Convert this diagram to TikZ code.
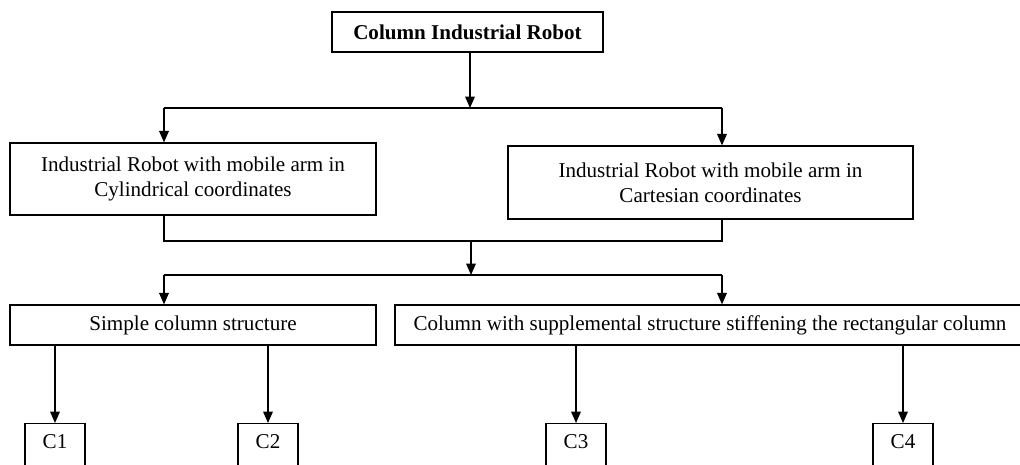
\documentclass[tikz,border=0pt]{standalone}
\usepackage{fontspec}
\setmainfont{Liberation Serif}
\usepackage{tikz}
\usetikzlibrary{shapes,arrows,arrows.meta,positioning,calc}

\tikzset{
  box/.style={draw, line width=0.7pt, align=center, inner sep=2pt,
    font=\fontsize{12}{14.2}\selectfont},
  cbox/.style={box, anchor=north, minimum width=1.2cm,
    text height=8pt, text depth=24pt, inner ysep=6pt},
  arr/.style={line width=0.7pt, -{Triangle[length=6.5pt,width=5.5pt]}},
  ln/.style={line width=0.7pt}
}

\begin{document}
\begin{tikzpicture}[x=0.02cm,y=-0.02cm]
  \clip (0,0) rectangle (1020,465);
  \fill[white] (0,0) rectangle (1020,465);

  % boxes
  \node[box, minimum width=5.42cm, minimum height=0.8cm, font=\fontsize{12}{14.2}\selectfont\bfseries]
    (top) at (467.5,32) {Column Industrial Robot};
  \node[box, minimum width=7.32cm, minimum height=1.44cm] (cyl) at (193,179)
    {Industrial Robot with mobile arm in\\Cylindrical coordinates};
  \node[box, minimum width=8.1cm, minimum height=1.46cm] (cart) at (710.5,182.5)
    {Industrial Robot with mobile arm in\\Cartesian coordinates};
  \node[box, minimum width=7.32cm, minimum height=0.8cm] (simple) at (193,325)
    {Simple column structure};
  \node[box, minimum width=12.6cm, minimum height=0.8cm] (suppl) at (710,325)
    {Column with supplemental structure stiffening the rectangular column};
  \node[cbox] (c1) at (55,423) {C1};
  \node[cbox] (c2) at (268,423) {C2};
  \node[cbox] (c3) at (576,423) {C3};
  \node[cbox] (c4) at (903,423) {C4};

  % junctions
  \coordinate (j1) at (470,108);
  \coordinate (j2) at (471,241);
  \coordinate (j3) at (471,275);
  \coordinate (k1) at (164,108);
  \coordinate (k2) at (722,108);

  % connectors
  \draw[arr] (top.south -| j1) -- (j1);
  \draw[ln] (k1) -- (k2);
  \draw[arr] (k1) -- (k1 |- cyl.north);
  \draw[arr] (k2) -- (k2 |- cart.north);
  \draw[ln] (cyl.south -| k1) -- (k1 |- j2) -- (j2 -| k2) -- (cart.south -| k2);
  \draw[arr] (j2) -- (j3);
  \draw[ln] (j3 -| k1) -- (j3 -| k2);
  \draw[arr] (j3 -| k1) -- (k1 |- simple.north);
  \draw[arr] (j3 -| k2) -- (k2 |- suppl.north);
  \draw[arr] (simple.south -| c1) -- (c1.north);
  \draw[arr] (simple.south -| c2) -- (c2.north);
  \draw[arr] (suppl.south -| c3) -- (c3.north);
  \draw[arr] (suppl.south -| c4) -- (c4.north);
\end{tikzpicture}
\end{document}
